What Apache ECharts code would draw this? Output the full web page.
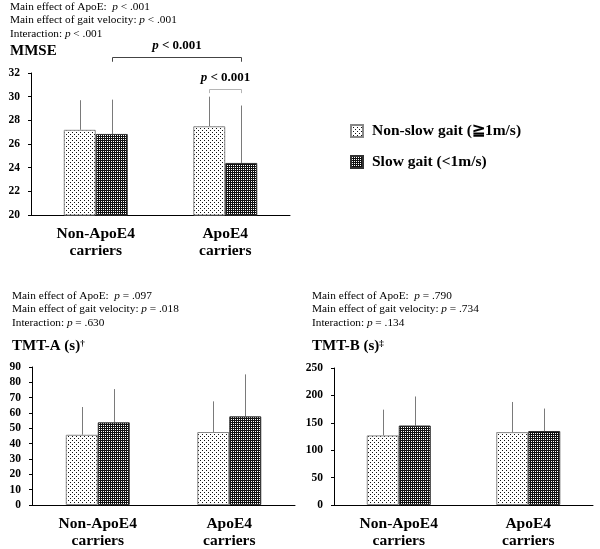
<!DOCTYPE html>
<html>
<head>
<meta charset="utf-8">
<script src="https://cdn.jsdelivr.net/npm/echarts@6/dist/echarts.min.js"></script>
<style>
html, body { margin: 0; padding: 0; background: #fff; }
#main { width: 600px; height: 549px; }
</style>
</head>
<body>
<div id="main"></div>
<script>
// 数据
const groups = ['Non-ApoE4\ncarriers', 'ApoE4\ncarriers'];
const seriesNames = ['Non-slow gait (≧1m/s)', 'Slow gait (<1m/s)'];

const mmseNonSlow = [27.2, 27.5];
const mmseNonSlowErr = [29.7, 30.0];
const mmseSlow = [26.85, 24.4];
const mmseSlowErr = [29.75, 29.25];

const tmtaNonSlow = [45.8, 47.6];
const tmtaNonSlowErr = [63.9, 67.6];
const tmtaSlow = [53.9, 57.8];
const tmtaSlowErr = [75.6, 85.2];

const tmtbNonSlow = [127, 133];
const tmtbNonSlowErr = [174, 188];
const tmtbSlow = [145, 135];
const tmtbSlowErr = [198, 176];

// [min, max, interval]
const mmseTicks = [20, 32, 2];
const tmtaTicks = [0, 90, 10];
const tmtbTicks = [0, 250, 50];

// 显著性括号: [组, 系列], 高度, 下垂端
const bracketFrom = [[0, 1], [1, 0]];
const bracketTo = [[1, 1], [1, 1]];
const bracketY = [33.35, 30.65];
const bracketDrop = [32.95, 30.3];
const bracketLabel = ['{i|p} < 0.001', '{i|p} < 0.001'];

const mmseNotes = ['Main effect of ApoE:  {i|p} < .001', 'Main effect of gait velocity: {i|p} < .001', 'Interaction: {i|p} < .001'];
const tmtaNotes = ['Main effect of ApoE:  {i|p} = .097', 'Main effect of gait velocity: {i|p} = .018', 'Interaction: {i|p} = .630'];
const tmtbNotes = ['Main effect of ApoE:  {i|p} = .790', 'Main effect of gait velocity: {i|p} = .734', 'Interaction: {i|p} = .134'];

const SERIF = '"Liberation Serif", "Times New Roman", serif';
const BAR_W = 32;

function makePattern(size, bg, fg, dots) {
    let c = document.createElement('canvas');
    c.width = size;
    c.height = size;
    let ctx = c.getContext('2d');
    ctx.fillStyle = bg;
    ctx.fillRect(0, 0, size, size);
    ctx.fillStyle = fg;
    dots.forEach(function (d) { ctx.fillRect(d[0], d[1], 1, 1); });
    return c;
}

const lightFill = { image: makePattern(4, '#ffffff', '#111111', [[0, 0], [2, 2]]), repeat: 'repeat' };
const darkFill = { image: makePattern(2, '#111111', '#ffffff', [[1, 1]]), repeat: 'repeat' };

let chart = echarts.init(document.getElementById('main'));

const grids = [
    { left: 31, top: 73, right: 310, bottom: 334 },
    { left: 32, top: 367, right: 305, bottom: 43 },
    { left: 334, top: 368, right: 7, bottom: 42 }
];
const ticks = [mmseTicks, tmtaTicks, tmtbTicks];
const panels = [
    [mmseNonSlow, mmseNonSlowErr, mmseSlow, mmseSlowErr],
    [tmtaNonSlow, tmtaNonSlowErr, tmtaSlow, tmtaSlowErr],
    [tmtbNonSlow, tmtbNonSlowErr, tmtbSlow, tmtbSlowErr]
];

function xAxisFor(i) {
    return {
        type: 'category', gridIndex: i, data: groups,
        axisLine: { lineStyle: { color: '#000', width: 1 } },
        axisTick: { show: false },
        axisLabel: { fontFamily: SERIF, fontWeight: 'bold', fontSize: 15.5, lineHeight: 17, color: '#000', margin: 10 }
    };
}
function yAxisFor(i) {
    return {
        type: 'value', gridIndex: i, min: ticks[i][0], max: ticks[i][1], interval: ticks[i][2],
        axisLine: { show: true, lineStyle: { color: '#000', width: 1 } },
        axisTick: { show: true, length: 3, lineStyle: { color: '#000' } },
        splitLine: { show: false },
        axisLabel: { fontFamily: SERIF, fontWeight: 'bold', fontSize: 11.5, color: '#000', margin: 11 }
    };
}

function errSeries(i, vals, errs, dx) {
    return {
        type: 'custom', name: 'err' + i + dx, xAxisIndex: i, yAxisIndex: i, z: 1,
        encode: { x: 0, y: [1, 2] },
        data: vals.map(function (v, k) { return [k, v, errs[k]]; }),
        renderItem: function (params, api) {
            let s = api.coord([api.value(0), api.value(1)]);
            let e = api.coord([api.value(0), api.value(2)]);
            let x = Math.round(s[0] + dx) + 0.5;
            return {
                type: 'line',
                shape: { x1: x, y1: s[1], x2: x, y2: e[1] },
                style: { stroke: '#7a7a7a', lineWidth: 1 }
            };
        }
    };
}

let series = [];
panels.forEach(function (p, i) {
    series.push({
        type: 'bar', name: seriesNames[0], xAxisIndex: i, yAxisIndex: i, data: p[0],
        barWidth: BAR_W, barGap: '0%', z: 2,
        itemStyle: { color: lightFill, borderColor: '#888', borderWidth: 1 }
    });
    series.push({
        type: 'bar', name: seriesNames[1], xAxisIndex: i, yAxisIndex: i, data: p[2],
        barWidth: BAR_W, barGap: '0%', z: 2,
        itemStyle: { color: darkFill, borderColor: '#333', borderWidth: 1 }
    });
    series.push(errSeries(i, p[0], p[1], -BAR_W / 2));
    series.push(errSeries(i, p[2], p[3], BAR_W / 2));
});

// 显著性括号
series.push({
    type: 'custom', name: 'brackets', xAxisIndex: 0, yAxisIndex: 0, clip: false, z: 3,
    data: bracketY.map(function (y, k) {
        return [bracketFrom[k][0], bracketFrom[k][1], bracketTo[k][0], bracketTo[k][1], y, bracketDrop[k], k];
    }),
    renderItem: function (params, api) {
        let off = function (s) { return s === 0 ? -BAR_W / 2 : BAR_W / 2; };
        let top = api.coord([api.value(0), api.value(4)]);
        let drop = api.coord([api.value(0), api.value(5)]);
        let right = api.coord([api.value(2), api.value(4)]);
        let x1 = Math.round(top[0] + off(api.value(1))) + 0.5;
        let x2 = Math.round(right[0] + off(api.value(3))) + 0.5;
        let yt = Math.round(top[1]) + 0.5;
        let k = api.value(6);
        return {
            type: 'group',
            children: [
                {
                    type: 'polyline',
                    shape: { points: [[x1, drop[1]], [x1, yt], [x2, yt], [x2, drop[1]]] },
                    style: { stroke: k === 0 ? '#444' : '#b5b5b5', lineWidth: 1, fill: null }
                },
                {
                    type: 'text',
                    style: {
                        x: (x1 + x2) / 2, y: yt - 12,
                        text: bracketLabel[k],
                        align: 'center', verticalAlign: 'middle',
                        font: 'bold 13px ' + SERIF, fill: '#000',
                        rich: { i: { fontStyle: 'italic', fontWeight: 'bold', fontSize: 13, fontFamily: SERIF } }
                    }
                }
            ]
        };
    }
});

function noteText(x, y, lines) {
    return {
        type: 'text', left: x, top: y,
        style: {
            text: lines.join('\n'), font: '11.3px ' + SERIF, lineHeight: 13.5, fill: '#000',
            rich: { i: { fontStyle: 'italic', fontSize: 11.3, fontFamily: SERIF, lineHeight: 13.5 } }
        }
    };
}
function titleText(x, y, txt) {
    return {
        type: 'text', left: x, top: y,
        style: {
            text: txt, font: 'bold 15px ' + SERIF, fill: '#000',
            rich: { sup: { fontSize: 9, fontWeight: 'bold', fontFamily: SERIF, verticalAlign: 'top', padding: [0, 0, 6, 0] } }
        }
    };
}

chart.setOption({
    animation: false,
    backgroundColor: '#fff',
    grid: grids,
    xAxis: [xAxisFor(0), xAxisFor(1), xAxisFor(2)],
    yAxis: [yAxisFor(0), yAxisFor(1), yAxisFor(2)],
    legend: {
        data: seriesNames, orient: 'vertical', left: 345, top: 118,
        itemWidth: 12, itemHeight: 12, itemGap: 15, icon: 'rect',
        selectedMode: false,
        textStyle: { fontFamily: SERIF, fontWeight: 'bold', fontSize: 15.5, color: '#000', padding: [0, 0, 0, 4] }
    },
    graphic: [
        noteText(10, 0, mmseNotes),
        titleText(10, 44, 'MMSE'),
        noteText(12, 289, tmtaNotes),
        titleText(12, 339, 'TMT-A (s){sup|†}'),
        noteText(312, 289, tmtbNotes),
        titleText(312, 339, 'TMT-B (s){sup|‡}')
    ],
    series: series
});
</script>
</body>
</html>
